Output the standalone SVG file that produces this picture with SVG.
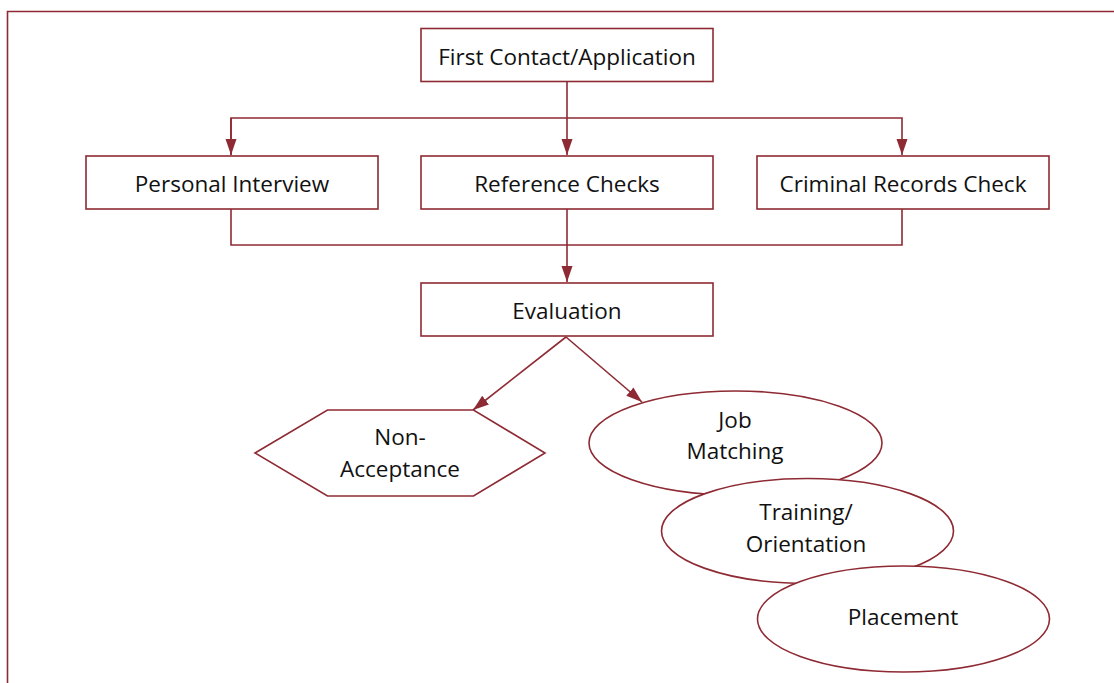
<svg xmlns="http://www.w3.org/2000/svg" width="1114" height="683" viewBox="0 0 1114 683">
<style>
.box{fill:#fff;stroke:#8e2a33;stroke-width:1.6}
.conn{fill:none;stroke:#8e2a33;stroke-width:1.6}
.t{font-family:"Open Sans","Noto Sans",sans-serif;font-size:22.5px;fill:#111;text-anchor:middle}
</style>
<defs>
<marker id="ah" markerUnits="userSpaceOnUse" markerWidth="17" markerHeight="12" refX="16" refY="5.5" orient="auto">
<path d="M0,0 L16,5.5 L0,11 z" fill="#8e2a33"/>
</marker>
</defs>
<rect width="1114" height="683" fill="#fff"/>
<path d="M7.5,683 V11.5 H1114" fill="none" stroke="#8e2a33" stroke-width="1.6"/>
<g id="connectors">
<path class="conn" d="M567,82 V155" marker-end="url(#ah)"/>
<path class="conn" d="M231,155 V118 H902 V155" marker-end="url(#ah)"/>
<path class="conn" d="M231,118 V155" marker-end="url(#ah)"/>
<path class="conn" d="M231,209 V245 H902 V209"/>
<path class="conn" d="M567,209 V282" marker-end="url(#ah)"/>
<path class="conn" d="M566,337 L473,410" marker-end="url(#ah)"/>
<path class="conn" d="M566,337 L642,402" marker-end="url(#ah)"/>
</g>
<g id="first-contact">
<rect class="box" x="421" y="28.5" width="292" height="53"/>
<text class="t" x="567" y="65">First Contact/Application</text>
</g>
<g id="personal-interview">
<rect class="box" x="86" y="156" width="292" height="53"/>
<text class="t" x="232" y="191.5">Personal Interview</text>
</g>
<g id="reference-checks">
<rect class="box" x="421" y="156" width="292" height="53"/>
<text class="t" x="567" y="191.5">Reference Checks</text>
</g>
<g id="criminal-records">
<rect class="box" x="757" y="156" width="292" height="53"/>
<text class="t" x="903" y="191.5">Criminal Records Check</text>
</g>
<g id="evaluation">
<rect class="box" x="421" y="283" width="292" height="53"/>
<text class="t" x="567" y="319">Evaluation</text>
</g>
<g id="non-acceptance">
<polygon class="box" points="255,453 327.5,410 473.5,410 545,453 473.5,496 327.5,496"/>
<text class="t" x="400" y="445">Non-</text>
<text class="t" x="400" y="477">Acceptance</text>
</g>
<g id="job-matching">
<ellipse class="box" cx="735.5" cy="443" rx="146.5" ry="52"/>
<text class="t" x="735" y="427.5">Job</text>
<text class="t" x="735" y="459">Matching</text>
</g>
<g id="training">
<ellipse class="box" cx="807.5" cy="531" rx="146" ry="52.5"/>
<text class="t" x="806" y="520">Training/</text>
<text class="t" x="806" y="552">Orientation</text>
</g>
<g id="placement">
<ellipse class="box" cx="903.5" cy="619" rx="146" ry="53"/>
<text class="t" x="903" y="624.5">Placement</text>
</g>
</svg>
